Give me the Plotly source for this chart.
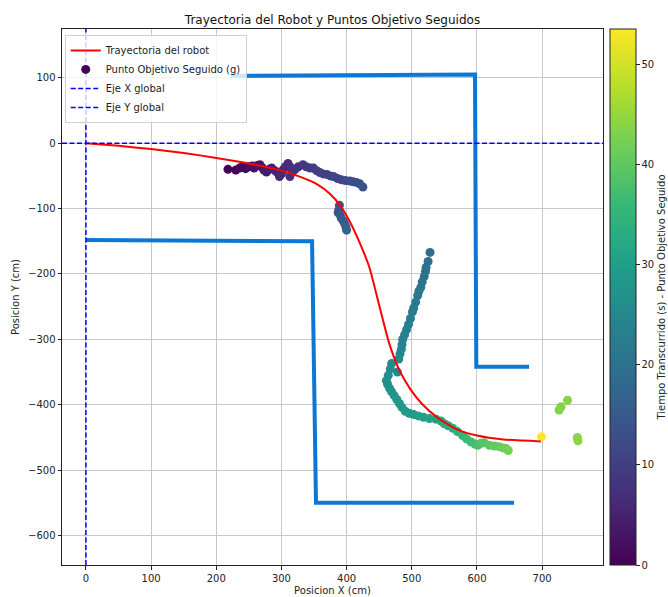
import plotly.graph_objects as go

# Robot trajectory
traj_x = [0, 50, 100, 150, 200, 250, 300, 330, 355, 375, 390, 405, 420, 435, 450, 465, 480, 497,
          515, 540, 570, 600, 640, 698]
traj_y = [0, -4, -9, -15, -22.5, -31, -42, -52, -63, -78, -95, -120, -152, -190, -248, -305, -345, -375,
          -398, -420, -438, -447, -453, -456]

# Target points followed (x, y, time)
pts_x = [218, 230, 236, 240, 245, 250, 255, 258, 263, 267, 270, 273, 277, 281, 285, 290, 294, 297, 300, 303,
         306, 310, 313, 313, 317, 321, 326, 333, 338, 344, 349, 354, 359, 364, 370, 375, 380, 386, 392, 398,
         405, 410, 415, 420, 425,
         389, 388, 387, 390, 392, 395, 397, 399, 400,
         528, 525, 522, 521, 519, 516, 514, 511, 509, 506, 503, 501, 498, 495, 492, 489, 486, 485, 484, 482,
         480, 478, 469, 467, 464, 461, 463, 466, 469, 473, 477, 481, 485, 490, 496, 503, 510, 518, 527, 537,
         545, 550, 556, 563, 570, 578, 584, 591, 597, 601, 606, 611, 619, 627, 634, 640, 645, 648,
         726, 729, 739, 754, 755, 699]
pts_y = [-40, -41, -38, -36, -39, -36, -35, -38, -34, -33, -37, -41, -44, -40, -38, -42, -45, -51, -47, -40,
         -36, -31, -36, -51, -44, -40, -36, -33, -36, -38, -38, -42, -45, -47, -48, -50, -51, -54, -56, -57,
         -58, -59, -60, -62, -67,
         -95, -102, -106, -110, -115, -119, -123, -128, -133,
         -167, -181, -190, -196, -204, -212, -220, -226, -233, -243, -252, -258, -268, -277, -285, -293, -300, -308, -315, -322,
         -330, -350, -337, -345, -355, -363, -369, -375, -380, -386, -392, -398, -404, -410, -413, -415, -417, -419, -421, -422,
         -425, -429, -432, -436, -441, -447, -452, -457, -460, -462, -459, -458, -462, -463, -464, -466, -467, -470,
         -408, -403, -393, -450, -455, -449]
pts_t = [0.0, 0.6, 1.0, 1.3, 1.6, 2.0, 2.3, 2.6, 2.9, 3.2, 3.5, 3.8, 4.1, 4.4, 4.7, 5.0, 5.3, 5.6, 5.9, 6.2,
         6.5, 6.8, 7.1, 7.3, 7.5, 7.8, 8.1, 8.4, 8.7, 9.0, 9.3, 9.6, 9.9, 10.2, 10.5, 10.8, 11.1, 11.4, 11.7, 12.0,
         12.3, 12.6, 12.9, 13.2, 13.5,
         14.0, 14.3, 14.6, 14.9, 15.2, 15.5, 15.8, 16.1, 16.4,
         19.0, 19.4, 19.7, 20.0, 20.3, 20.6, 20.9, 21.2, 21.5, 21.8, 22.1, 22.4, 22.7, 23.0, 23.3, 23.6, 23.9, 24.2, 24.5, 24.8,
         25.1, 25.4, 25.7, 26.0, 26.3, 26.6, 26.9, 27.2, 27.5, 27.8, 28.1, 28.4, 28.7, 29.0, 29.3, 29.6, 29.9, 30.2, 30.5, 30.8,
         31.2, 31.8, 32.5, 33.3, 34.1, 35.0, 35.8, 36.6, 37.3, 37.9, 38.5, 39.0, 39.6, 40.2, 40.8, 41.3, 41.8, 42.2,
         43.0, 43.3, 43.6, 44.0, 44.3, 53.5]

# Walls
wall1_x = [222, 597, 599, 680]
wall1_y = [103, 105, -342, -342]
wall2_x = [0, 347, 353, 657]
wall2_y = [-148, -150, -550, -550]

x_range = [-36.7, 793.4]
y_range = [-645, 174.6]

FONT = "DejaVu Sans"
WALL = "#0a78d4"

fig = go.Figure()
for wx, wy in [(wall1_x, wall1_y), (wall2_x, wall2_y)]:
    fig.add_trace(go.Scatter(x=wx, y=wy, mode="lines", line=dict(color=WALL, width=4),
                             showlegend=False, hoverinfo="skip"))

fig.add_trace(go.Scatter(
    x=pts_x, y=pts_y, mode="markers", name="Punto Objetivo Seguido (g)", legendrank=2,
    marker=dict(size=9, color=pts_t, colorscale="Viridis", cmin=0, cmax=53.5,
                line=dict(width=0),
                colorbar=dict(
                    thickness=26, len=1, lenmode="fraction", y=0.5, yanchor="middle",
                    x=1.0137, xanchor="left", xpad=0, ypad=0,
                    outlinewidth=1, outlinecolor="#222",
                    ticks="outside", ticklen=3.5, tickcolor="#222", tickwidth=1,
                    tickvals=[0, 10, 20, 30, 40, 50],
                    tickfont=dict(family=FONT, size=10, color="#222"),
                    title=dict(text="Tiempo Transcurrido (s) - Punto Objetivo Seguido", side="right",
                               font=dict(family=FONT, size=10, color="#222")),
                ))))

fig.add_trace(go.Scatter(x=traj_x, y=traj_y, mode="lines", name="Trayectoria del robot", legendrank=1,
                         line=dict(color="#ff0000", width=2, shape="spline", smoothing=0.6)))
fig.add_trace(go.Scatter(x=x_range, y=[0, 0], mode="lines", name="Eje X global", legendrank=3,
                         line=dict(color="#0000ff", width=1.5, dash="5px,2.5px")))
fig.add_trace(go.Scatter(x=[0, 0], y=y_range, mode="lines", name="Eje Y global", legendrank=4,
                         line=dict(color="#0000ff", width=1.5, dash="5px,2.5px")))

axis_common = dict(showline=True, mirror=True, linecolor="#222", linewidth=1,
                   ticks="outside", ticklen=3.5, tickcolor="#222", tickwidth=1,
                   showgrid=True, gridcolor="#c8c8c8", gridwidth=0.8, zeroline=False,
                   tickfont=dict(family=FONT, size=10, color="#222"), dtick=100)

fig.update_layout(
    width=668, height=597,
    margin=dict(l=61.7, r=64.7, t=29.3, b=32.3, autoexpand=False),
    plot_bgcolor="white", paper_bgcolor="white",
    font=dict(family=FONT, size=10, color="#222"),
    title=dict(text="Trayectoria del Robot y Puntos Objetivo Seguidos", x=(61.7 + 603.3) / 2 / 668,
               xanchor="center", y=1 - 20 / 597, yanchor="middle",
               font=dict(family=FONT, size=12, color="#111")),
    xaxis=dict(range=x_range, title=dict(text="Posicion X (cm)", standoff=4,
                                         font=dict(family=FONT, size=10)), **axis_common),
    yaxis=dict(range=y_range, title=dict(text="Posicion Y (cm)", standoff=6,
                                         font=dict(family=FONT, size=10)), **axis_common),
    legend=dict(x=0.005, y=0.989, xanchor="left", yanchor="top",
                bgcolor="rgba(255,255,255,0.8)", bordercolor="#d0d0d0", borderwidth=1,
                font=dict(family=FONT, size=10, color="#222"), tracegroupgap=0,
                itemwidth=30),
    showlegend=True,
)

fig.write_html("out.html")
